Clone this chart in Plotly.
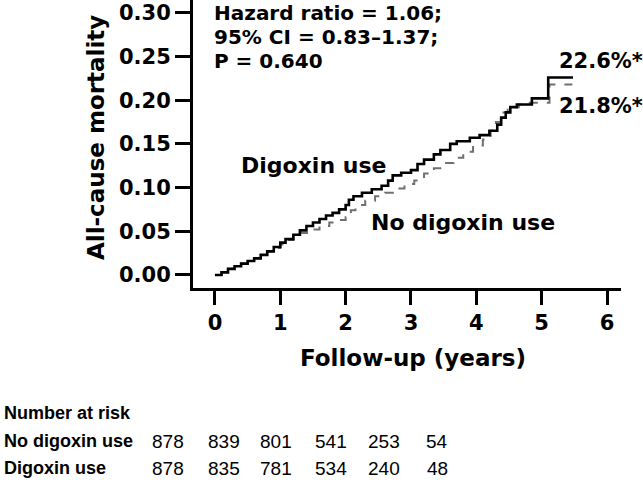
"""Kaplan-Meier style cumulative mortality: digoxin use vs no digoxin use."""

import plotly.graph_objects as go

FONT = 'DejaVu Sans, Liberation Sans, sans-serif'
TABLE_FONT = 'Liberation Sans, Arial, sans-serif'

# step curves (years, cumulative mortality)
DIG_T = [0.00, 0.10, 0.20, 0.30, 0.40, 0.50, 0.60, 0.70, 0.80, 0.90, 1.00, 1.08,
         1.20, 1.30, 1.40, 1.50, 1.60, 1.70, 1.80, 1.90, 2.00, 2.05, 2.12, 2.25,
         2.40, 2.55, 2.65, 2.72, 2.85, 3.00, 3.10, 3.20, 3.35, 3.45, 3.60, 3.70,
         3.90, 4.05, 4.20, 4.32, 4.38, 4.45, 4.52, 4.62, 4.85, 5.10, 5.48]
DIG_Y = [0.000, 0.003, 0.007, 0.010, 0.013, 0.016, 0.019, 0.023, 0.027, 0.032, 0.037, 0.041,
         0.046, 0.051, 0.056, 0.060, 0.064, 0.068, 0.071, 0.075, 0.080, 0.086, 0.090, 0.094,
         0.098, 0.102, 0.108, 0.114, 0.117, 0.120, 0.127, 0.132, 0.138, 0.143, 0.150, 0.153,
         0.157, 0.160, 0.165, 0.172, 0.180, 0.186, 0.192, 0.195, 0.202, 0.226, 0.226]

NODIG_T = [0.00, 0.10, 0.20, 0.30, 0.40, 0.50, 0.60, 0.70, 0.80, 0.90, 1.00, 1.10,
           1.20, 1.30, 1.45, 1.60, 1.75, 1.90, 2.00, 2.08, 2.15, 2.30, 2.45, 2.60,
           2.75, 2.90, 3.05, 3.20, 3.35, 3.50, 3.65, 3.80, 3.95, 4.10, 4.22, 4.30,
           4.38, 4.48, 4.65, 4.75, 5.12, 5.47]
NODIG_Y = [0.000, 0.003, 0.007, 0.010, 0.013, 0.016, 0.019, 0.023, 0.027, 0.031, 0.035, 0.040,
           0.044, 0.048, 0.052, 0.056, 0.060, 0.063, 0.066, 0.074, 0.080, 0.085, 0.090, 0.094,
           0.099, 0.104, 0.108, 0.116, 0.122, 0.128, 0.134, 0.141, 0.148, 0.155, 0.165, 0.175,
           0.186, 0.192, 0.195, 0.197, 0.218, 0.218]

X_TICKS = [0, 1, 2, 3, 4, 5, 6]
Y_TICKS = [0.00, 0.05, 0.10, 0.15, 0.20, 0.25, 0.30]

RISK_ROWS = ['No digoxin use', 'Digoxin use']
RISK_NODIG = [878, 839, 801, 541, 253, 54]
RISK_DIG = [878, 835, 781, 534, 240, 48]

# plot box in pixels
L, R, T, B = 193, 621, 0, 288
W, H = 643, 482


def pp(x, y):
    """pixel -> paper coords"""
    return (x - L) / (R - L), (B - y) / (B - T)


def add_text(fig, text, x, y, size, xanchor='left', bold=True, angle=0, family=FONT):
    px_, py_ = pp(x, y)
    fig.add_annotation(
        text=f'<b>{text}</b>' if bold else text,
        x=px_, y=py_, xref='paper', yref='paper',
        xanchor=xanchor, yanchor='middle', showarrow=False,
        textangle=angle,
        font=dict(family=family, size=size, color='black'),
    )


fig = go.Figure()
fig.add_trace(go.Scatter(
    x=NODIG_T, y=NODIG_Y, mode='lines', line_shape='hv',
    line=dict(color='#707070', width=2, dash='dash'), name='No digoxin use',
))
fig.add_trace(go.Scatter(
    x=DIG_T, y=DIG_Y, mode='lines', line_shape='hv',
    line=dict(color='black', width=2.6), name='Digoxin use',
))

axis_common = dict(
    showline=True, linewidth=3, linecolor='black', showgrid=False, zeroline=False,
    ticks='outside', tickwidth=3, tickcolor='black', ticklabeloverflow='allow',
    tickfont=dict(family=FONT, size=21, color='black', weight='bold'),
)
fig.update_xaxes(range=[-0.336, 6.214], tickvals=X_TICKS, ticklen=14, **axis_common)
fig.update_yaxes(range=[-0.0149, 0.3146], tickvals=Y_TICKS, tickformat='.2f', ticklen=15, **axis_common)

add_text(fig, 'Hazard ratio = 1.06;', 212, 13, 20)
add_text(fig, '95% CI = 0.83–1.37;', 212, 37, 20)
add_text(fig, 'P = 0.640', 212, 61, 20)
add_text(fig, '22.6%*', 557, 61, 21)
add_text(fig, '21.8%*', 557, 106, 21)
add_text(fig, 'Digoxin use', 239, 165, 22)
add_text(fig, 'No digoxin use', 369, 222, 22)
add_text(fig, 'All-cause mortality', 96, 138, 23, xanchor='center', angle=-90)
add_text(fig, 'Follow-up (years)', 413, 358, 23, xanchor='center')

# number at risk table
add_text(fig, 'Number at risk', 2, 413, 18, family=TABLE_FONT)
col_x = [168, 224, 276, 331, 384, 437]
for row_y, label, vals in [(441, RISK_ROWS[0], RISK_NODIG), (468, RISK_ROWS[1], RISK_DIG)]:
    add_text(fig, label, 2, row_y, 18, family=TABLE_FONT)
    for cx, v in zip(col_x, vals):
        add_text(fig, str(v), cx, row_y, 19, xanchor='center', bold=False, family=TABLE_FONT)

fig.update_layout(
    width=W, height=H,
    margin=dict(l=L, r=W - R, t=T, b=H - B),
    plot_bgcolor='white', paper_bgcolor='white',
    showlegend=False,
    font=dict(family=FONT, color='black'),
)

fig.write_html('out.html', config={'displayModeBar': False},
               post_script="document.body.style.margin='0';")
